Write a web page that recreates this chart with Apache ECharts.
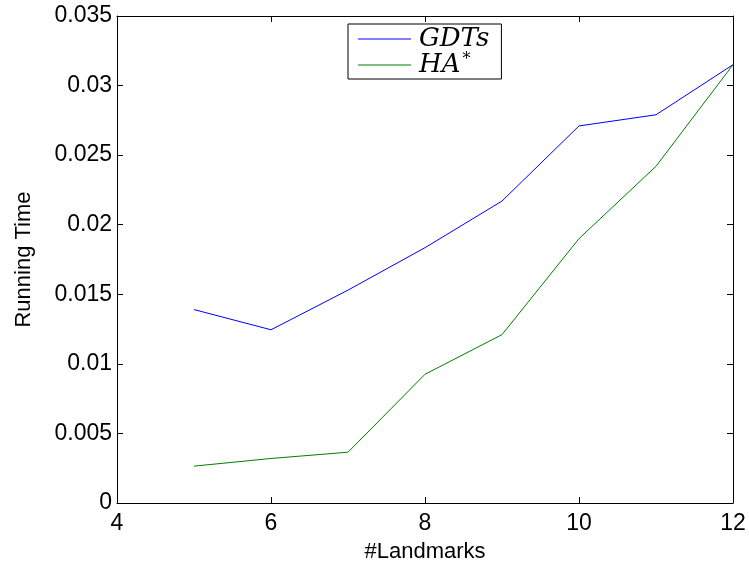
<!DOCTYPE html>
<html>
<head>
<meta charset="utf-8">
<script src="https://cdn.jsdelivr.net/npm/echarts@6/dist/echarts.min.js"></script>
<style>
	html, body { margin: 0; padding: 0; background: #fff; }
	#chart { width: 749px; height: 565px; }
</style>
</head>
<body>
<div id="chart"></div>
<script>
// landmarks on x axis
var landmarks = [5, 6, 7, 8, 9, 10, 11, 12]
var gdts = [0.0139, 0.01245, 0.0153, 0.01835, 0.0217, 0.0271, 0.0279, 0.0315]
var hastar = [0.00265, 0.0032, 0.00365, 0.00925, 0.0121, 0.0190, 0.0242, 0.0315]
var yTicks = ['0', '0.005', '0.01', '0.015', '0.02', '0.025', '0.03', '0.035']

function pairs (xs, ys) {
	return xs.map(function (x, i) { return [x, ys[i]] })
}

var font = 'Liberation Sans, Arial, sans-serif'
var tickIn = { show: true, inside: true, length: 6, lineStyle: { color: '#000' } }

var myChart = echarts.init(document.getElementById('chart'))
var option = {
	animation: false,
	backgroundColor: '#fff',
	grid: { left: 117, right: 16, top: 16, bottom: 62, containLabel: false, outerBoundsMode: 'none' },
	legend: {
		left: 348,
		top: 24,
		orient: 'vertical',
		itemGap: 0,
		itemWidth: 53,
		itemHeight: 22,
		padding: [2, 12, 1, 10],
		borderColor: '#000',
		borderWidth: 1,
		backgroundColor: '#fff',
		icon: 'path://M0,10 L53,10 L53,11 L0,11 Z',
		data: ['GDTs', 'HA*'],
		formatter: function (name) {
			if (name === 'HA*') return '{i|HA}{s|*}'
			return '{i|GDTs}'
		},
		textStyle: {
			rich: {
				i: { fontFamily: 'DejaVu Serif, serif', fontStyle: 'italic', fontSize: 26, color: '#000', padding: [0, 0, 0, 3] },
				s: { fontFamily: 'DejaVu Serif, serif', fontSize: 16, color: '#000', verticalAlign: 'top', padding: [0, 0, 10, 2] }
			}
		}
	},
	xAxis: [
		{
			type: 'value', min: 4, max: 12, interval: 2,
			name: '#Landmarks', nameLocation: 'middle', nameGap: 38,
			nameTextStyle: { fontFamily: font, fontSize: 22, color: '#000' },
			axisLine: { show: true, onZero: false, lineStyle: { color: '#000' } },
			axisTick: tickIn,
			axisLabel: { fontFamily: font, fontSize: 23, color: '#000', margin: 9 },
			splitLine: { show: false }
		},
		{
			type: 'value', min: 4, max: 12, interval: 2, position: 'top',
			axisLine: { show: true, onZero: false, lineStyle: { color: '#000' } },
			axisTick: tickIn,
			axisLabel: { show: false },
			splitLine: { show: false }
		}
	],
	yAxis: [
		{
			type: 'value', min: 0, max: 0.035, interval: 0.005,
			name: 'Running Time', nameLocation: 'middle', nameGap: 82, nameRotate: 90,
			nameTextStyle: { fontFamily: font, fontSize: 22, color: '#000' },
			axisLine: { show: true, onZero: false, lineStyle: { color: '#000' } },
			axisTick: tickIn,
			axisLabel: {
				fontFamily: font, fontSize: 23, color: '#000', margin: 5,
				formatter: function (v, i) { return yTicks[i] }
			},
			splitLine: { show: false }
		},
		{
			type: 'value', min: 0, max: 0.035, interval: 0.005, position: 'right',
			axisLine: { show: true, onZero: false, lineStyle: { color: '#000' } },
			axisTick: tickIn,
			axisLabel: { show: false },
			splitLine: { show: false }
		}
	],
	series: [
		{
			name: 'GDTs', type: 'line', data: pairs(landmarks, gdts),
			showSymbol: false, symbol: 'none',
			lineStyle: { color: '#0000ff', width: 1 }, itemStyle: { color: '#0000ff' }
		},
		{
			name: 'HA*', type: 'line', data: pairs(landmarks, hastar),
			showSymbol: false, symbol: 'none',
			lineStyle: { color: '#008000', width: 1 }, itemStyle: { color: '#008000' }
		}
	]
}
myChart.setOption(option)
</script>
</body>
</html>
